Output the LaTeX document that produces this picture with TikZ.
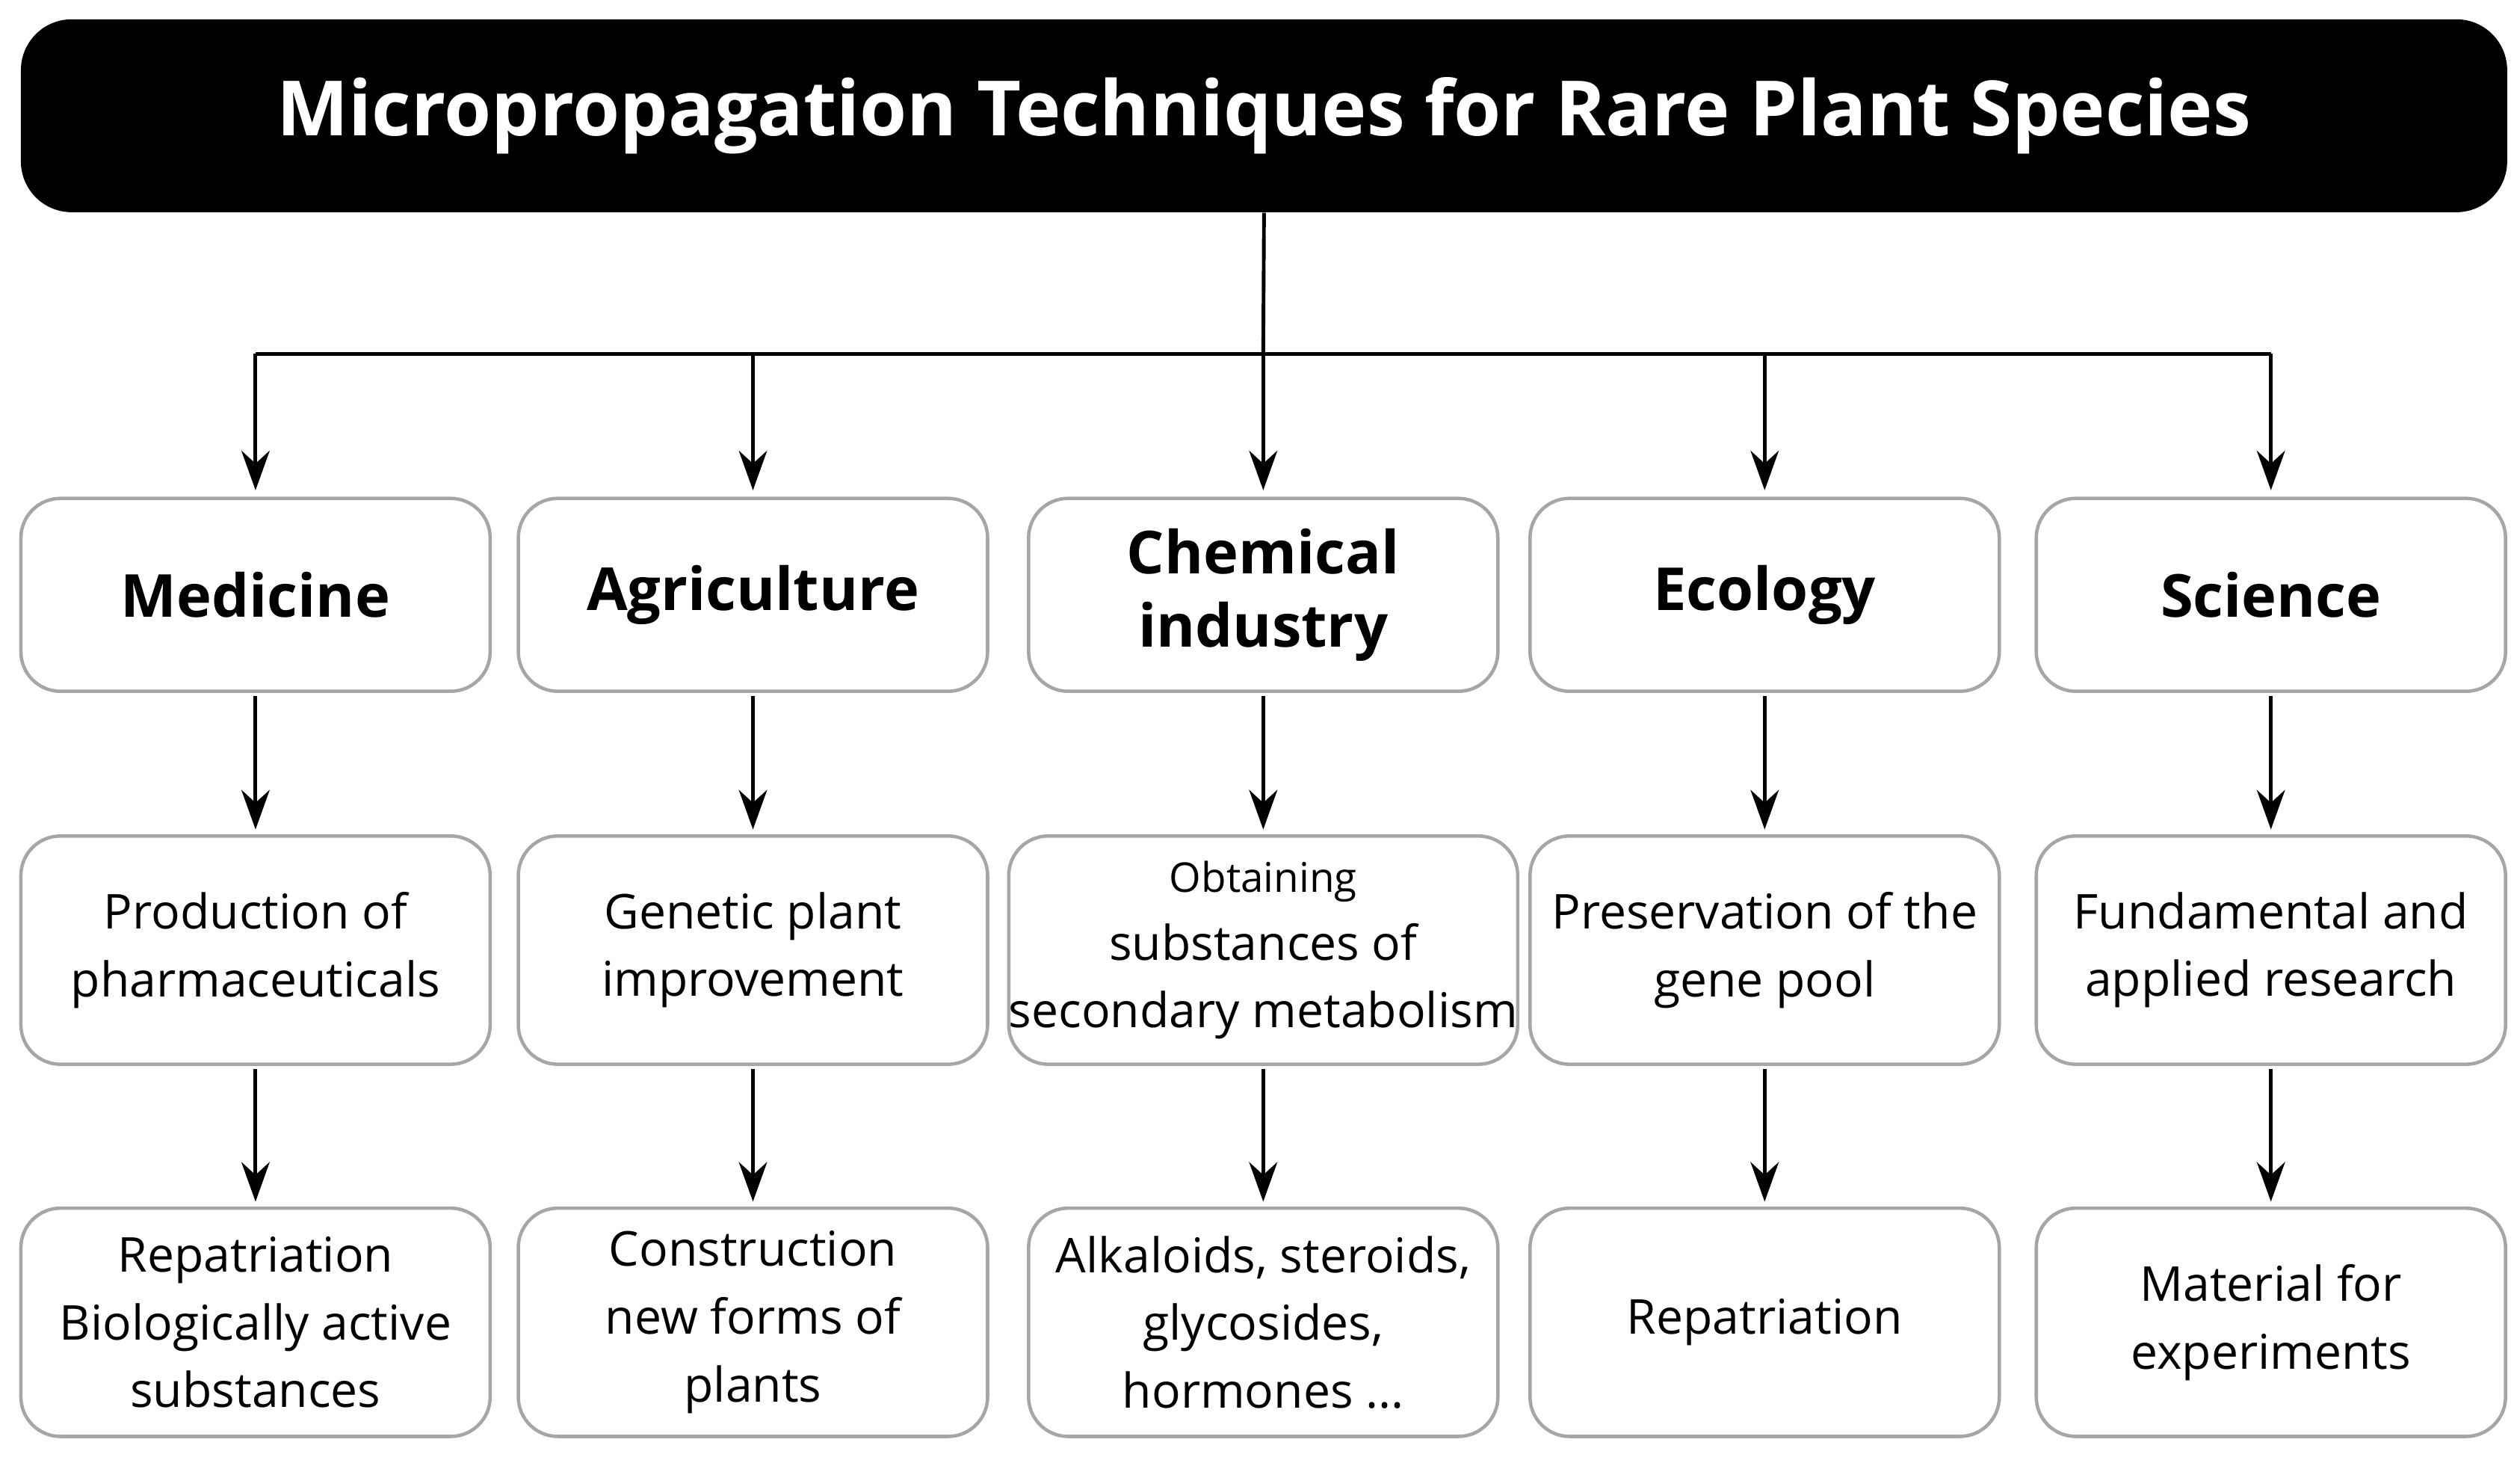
\documentclass[tikz,border=0pt]{standalone}
\usepackage{fontspec}
\setmainfont{Open Sans}
\usetikzlibrary{arrows.meta}
\begin{document}
\begin{tikzpicture}[x=0.02cm,y=-0.02cm,
 box/.style={draw=black!35,line width=1.2pt,rounded corners=14pt,fill=white,minimum width=292*0.02cm,align=center,inner sep=0pt},
 h/.style={box,minimum height=120*0.02cm,font=\fontsize{21}{26}\selectfont\bfseries},
 m/.style={box,minimum height=142*0.02cm,font=\fontsize{17}{24}\selectfont},
 arr/.style={-{Stealth[length=14pt,width=10pt]},line width=1.3pt}]
\useasboundingbox (0,0) rectangle (1568,906);
\node[fill=black,rounded corners=18pt,minimum width=1547*0.02cm,minimum height=120*0.02cm,text=white,font=\fontsize{27}{32}\selectfont\bfseries] (t) at (786.5,72) {Micropropagation Techniques for Rare Plant Species};
\foreach \n/\x/\a/\b/\c in {
 1/159/{Medicine}/{Production of\\pharmaceuticals}/{Repatriation\\Biologically active\\substances},
 2/468.5/{Agriculture}/{Genetic plant\\improvement}/{Construction\\new forms of\\plants},
 3/786/{Chemical\\industry}/{\fontsize{14.5}{19}\selectfont Obtaining\\substances of\\secondary metabolism}/{Alkaloids, steroids,\\glycosides,\\hormones ...},
 4/1098/{Ecology}/{Preservation of the\\gene pool}/{Repatriation},
 5/1413/{Science}/{Fundamental and\\applied research}/{Material for\\experiments}}{
 \node[h] (a\n) at (\x,370) {\a};
 \node[m] (b\n) at (\x,591) {\b};
 \node[m] (c\n) at (\x,822.5) {\c};
 \draw[arr] ([yshift=-0.04cm]a\n.south) -- ([yshift=0.06cm]b\n.north);
 \draw[arr] ([yshift=-0.04cm]b\n.south) -- ([yshift=0.06cm]c\n.north);
 \coordinate (j\n) at (\x,220);
 \draw[arr] (j\n) -- ([yshift=0.08cm]a\n.north);
}
\draw[line width=1.3pt] (t.south) -- (786,220);
\draw[line width=1.3pt] (j1) -- (j5);
\end{tikzpicture}
\end{document}
